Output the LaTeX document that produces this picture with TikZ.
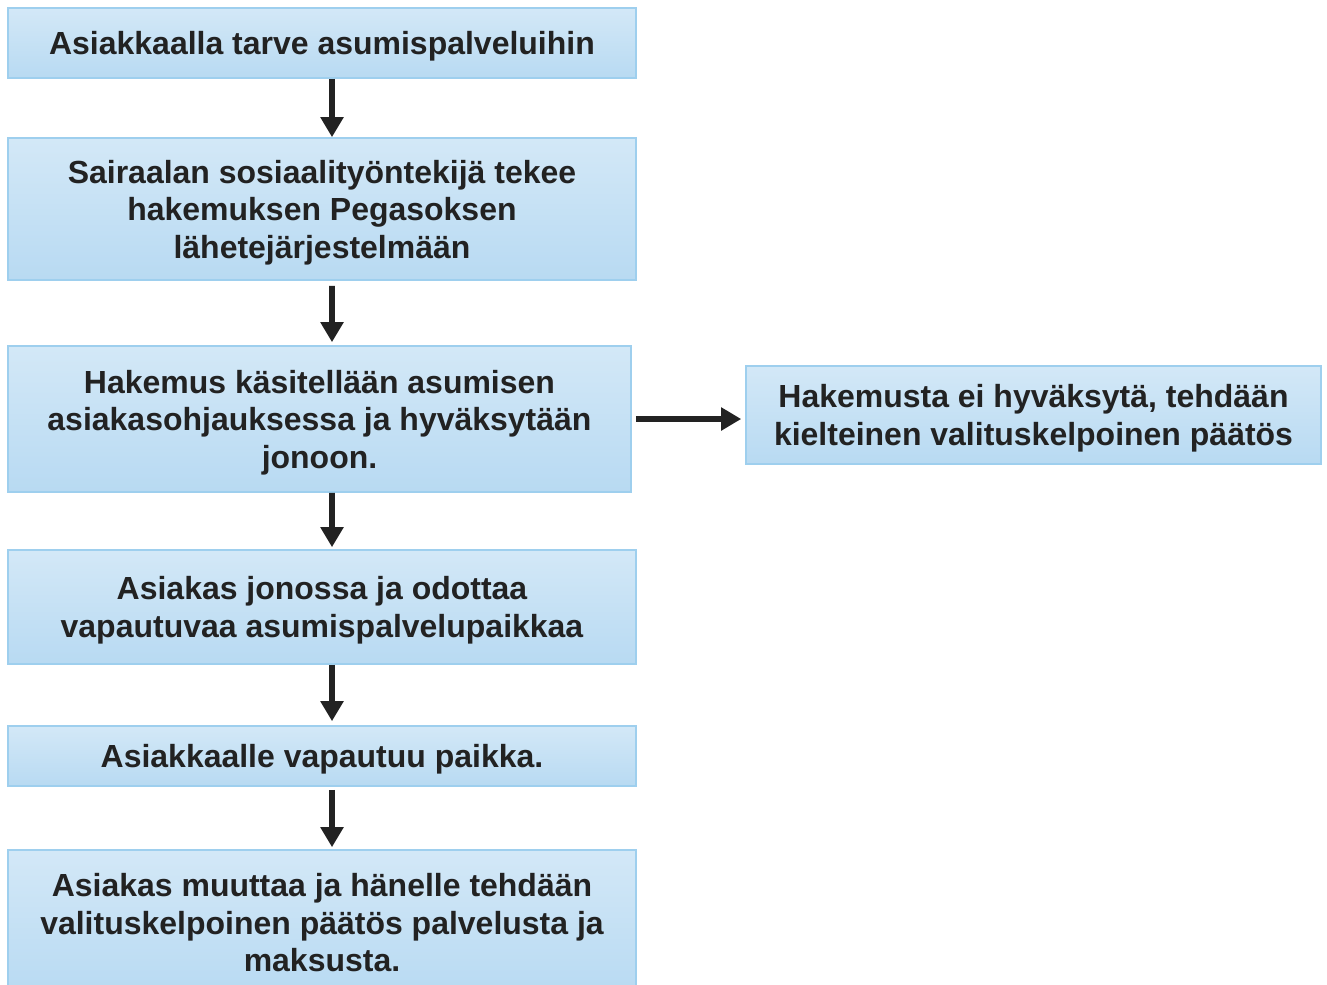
\documentclass[tikz,border=0pt]{standalone}
\usepackage{fontspec}
\setmainfont{Liberation Sans}
\usetikzlibrary{arrows.meta}
\definecolor{boxtop}{HTML}{D3E8F7}
\definecolor{boxbot}{HTML}{B8DAF2}
\definecolor{boxline}{HTML}{9ECFEE}
\definecolor{ink}{HTML}{222222}
\tikzset{
  stepbox/.style={draw=boxline, line width=0.9pt, top color=boxtop, bottom color=boxbot,
    align=center, text=ink, font=\fontsize{18.2}{21.3}\selectfont\bfseries,
    inner sep=0pt, text depth=-3pt},
  flowarrow/.style={draw=ink, line width=3.4pt, -{Triangle[width=0.44cm,length=0.4cm]}}
}
\begin{document}
\begin{tikzpicture}
	\useasboundingbox (0,0) rectangle (26.54,-19.68);
	\node[stepbox, minimum width=12.56cm, minimum height=1.40cm] (need) at (6.44,-0.86) {Asiakkaalla tarve asumispalveluihin};
	\node[stepbox, minimum width=12.56cm, minimum height=2.84cm] (apply) at (6.44,-4.18) {Sairaalan sosiaalityöntekijä tekee\\hakemuksen Pegasoksen\\lähetejärjestelmään};
	\node[stepbox, minimum width=12.46cm, minimum height=2.92cm] (handle) at (6.39,-8.38) {Hakemus käsitellään asumisen\\asiakasohjauksessa ja hyväksytään\\jonoon.};
	\node[stepbox, minimum width=11.50cm, minimum height=1.96cm] (reject) at (20.67,-8.30) {Hakemusta ei hyväksytä, tehdään\\kielteinen valituskelpoinen päätös};
	\node[stepbox, minimum width=12.56cm, minimum height=2.28cm] (queue) at (6.44,-12.14) {Asiakas jonossa ja odottaa\\vapautuvaa asumispalvelupaikkaa};
	\node[stepbox, minimum width=12.56cm, minimum height=1.20cm] (free) at (6.44,-15.12) {Asiakkaalle vapautuu paikka.};
	% last box runs past the lower edge of the page
	\node[stepbox, minimum width=12.56cm, minimum height=2.90cm] (move) at (6.44,-18.45) {Asiakas muuttaa ja hänelle tehdään\\valituskelpoinen päätös palvelusta ja\\maksusta.};
	% connectors
	\draw[flowarrow] ([xshift=0.2cm]need.south) -- ([xshift=0.2cm]apply.north);
	\draw[flowarrow] ([xshift=0.2cm,yshift=-0.1cm]apply.south) -- ([xshift=0.25cm,yshift=0.06cm]handle.north);
	\draw[flowarrow] ([xshift=0.25cm]handle.south) -- ([xshift=0.2cm,yshift=0.04cm]queue.north);
	\draw[flowarrow] ([xshift=0.2cm]queue.south) -- ([xshift=0.2cm,yshift=0.08cm]free.north);
	\draw[flowarrow] ([xshift=0.2cm,yshift=-0.06cm]free.south) -- ([xshift=0.2cm,yshift=0.04cm]move.north);
	\draw[flowarrow] ([xshift=0.08cm]handle.east) -- ([xshift=-0.08cm]handle.east -| reject.west);
\end{tikzpicture}
\end{document}
